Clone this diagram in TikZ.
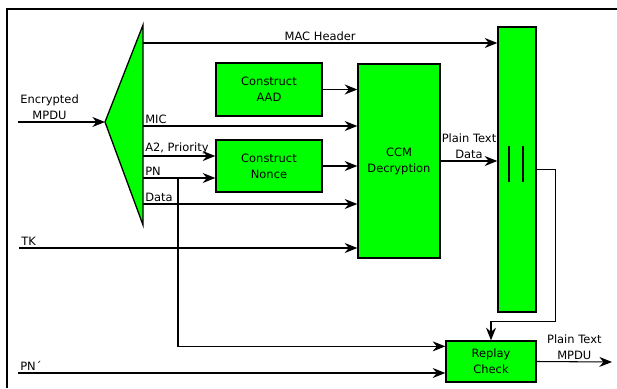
\documentclass[tikz,border=0pt]{standalone}
\usepackage{fontspec}
\setmainfont{DejaVu Sans}
\usetikzlibrary{arrows.meta,calc}
\pgfdeclarelayer{background}
\pgfsetlayers{background,main}
\definecolor{boxgreen}{RGB}{0,255,0}

\tikzset{
  block/.style={draw, line width=1.1pt, fill=boxgreen, align=center, inner sep=0pt},
  arr/.style={line width=0.9pt, -{Stealth[length=0.38cm,width=0.3cm]}},
  wire/.style={line width=0.9pt},
  lbl/.style={inner sep=1.5pt, align=center}
}

\begin{document}
\begin{tikzpicture}[x=0.03cm, y=-0.03cm, font=\fontsize{9.8}{13.6}\selectfont]
\useasboundingbox (0,0) rectangle (617,388);

\begin{pgfonlayer}{background}
\draw[wire] (7,388) -- (7,9) -- (617,9);
\end{pgfonlayer}

% splitter
\coordinate (tip) at (105,122);
\coordinate (splittop) at (143,25);
\coordinate (splitbot) at (143,225);
\draw[line width=1.1pt, fill=boxgreen] (splittop) -- (tip) -- (splitbot) -- cycle;

% blocks
\node[block, minimum width=3.18cm, minimum height=1.59cm] (aad) at (269,89.5) {Construct\\AAD};
\node[block, minimum width=3.18cm, minimum height=1.56cm] (nonce) at (269,166) {Construct\\Nonce};
\node[block, minimum width=2.46cm, minimum height=5.82cm] (ccm) at (399,161) {CCM\\Decryption};
\node[block, minimum width=1.14cm, minimum height=8.55cm] (concat) at (517,169.5) {};
\node[block, minimum width=2.7cm, minimum height=1.23cm] (replay) at (491,361.5) {Replay\\Check};

% || sign
\draw[line width=1.1pt] ($(concat.center)+(-8,-24)$) -- ++(0,36);
\draw[line width=1.1pt] ($(concat.center)+(6,-24)$) -- ++(0,36);

% splitter outputs
\coordinate (macout) at (143,43);
\coordinate (micout) at (143,126);
\coordinate (a2out) at (143,156);
\coordinate (pnout) at (143,178);
\coordinate (dataout) at (143,204);
\coordinate (pnsplit) at (178,178);
\coordinate (pnrep) at ($(replay.north west)+(0,6)$);

% inputs
\coordinate (mpduin) at (18,122);
\coordinate (tkin) at (19,248);
\coordinate (pnin) at (18,373);
\coordinate (mpduout) at (612,362);

\draw[arr] (mpduin) -- (tip) node[pos=0, above right, lbl] {Encrypted\\MPDU};
\draw[arr] (macout) -- (macout -| concat.west) node[midway, above, lbl] {MAC Header};
\draw[arr] (aad.east) -- (aad.east -| ccm.west);
\draw[arr] (micout) -- (micout -| ccm.west) node[pos=0, above right, lbl] {MIC};
\draw[arr] (a2out) -- (a2out -| nonce.west) node[pos=0, above right, lbl] {A2, Priority};
\draw[arr] (pnout) -- (pnout -| nonce.west) node[pos=0, above right, lbl] {PN};
\draw[arr] (nonce.east) -- (nonce.east -| ccm.west);
\draw[arr] (dataout) -- (dataout -| ccm.west) node[pos=0, above right, lbl] {Data};
\draw[arr] (tkin) -- (tkin -| ccm.west) node[pos=0, above right, lbl] {TK};
\draw[arr] (ccm.east) -- (ccm.east -| concat.west) node[midway, above, lbl] {Plain Text\\Data};
\draw[arr] (pnsplit) |- (pnrep);
\draw[arr] (pnin) -- (pnin -| replay.west) node[pos=0, above right, lbl] {PN´};
\draw[arr] (concat.east) -- ++(19,0) |- ($(replay.north)+(0,-19)$) -- (replay.north);
\draw[arr] (replay.east) -- (mpduout) node[midway, above, lbl] {Plain Text\\MPDU};

\end{tikzpicture}
\end{document}
